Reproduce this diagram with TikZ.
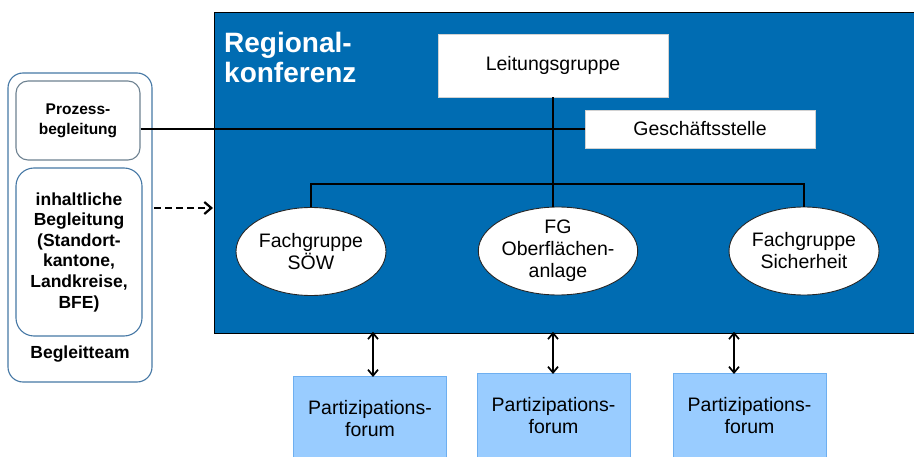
\documentclass[tikz,border=0pt]{standalone}
\usepackage{fontspec}
\setmainfont{Liberation Sans}
\usetikzlibrary{arrows.meta,shapes.geometric}
\definecolor{rkblue}{RGB}{0,108,178}
\definecolor{forumfill}{RGB}{153,204,255}
\definecolor{forumdraw}{RGB}{110,175,240}
\definecolor{teamdraw}{RGB}{70,120,165}
\definecolor{prozdraw}{RGB}{110,130,145}
\begin{document}
\begin{tikzpicture}[x=1pt,y=-1pt,
  wbox/.style={draw=gray!35, fill=white, inner sep=0pt, font=\fontsize{19.5}{23}\selectfont},
  fg/.style={ellipse, draw=black!85, line width=0.9pt, fill=white, minimum width=150pt, minimum height=88pt, inner sep=0pt, align=center, font=\fontsize{19.5}{22}\selectfont},
  forum/.style={draw=forumdraw, line width=0.8pt, fill=forumfill, minimum width=153pt, minimum height=84pt, anchor=north, inner sep=0pt, align=center, font=\fontsize{19.5}{22}\selectfont},
  conn/.style={line width=1.9pt, black},
  tip/.style={-{Straight Barb[length=7pt,width=12pt,line width=2.2pt]}},
  bitip/.style={{Straight Barb[length=6pt,width=10pt,line width=1.7pt]}-{Straight Barb[length=6pt,width=10pt,line width=1.7pt]}}
]
\useasboundingbox (0,0) rectangle (914,457);
\clip (0,0) rectangle (914,457);
\fill[white] (0,0) rectangle (914,457);

% Regionalkonferenz
\node[draw=black, line width=0.8pt, fill=rkblue, minimum width=712pt, minimum height=321pt, anchor=north west, inner sep=0pt] (rk) at (214,12) {};
\node[anchor=north west, text=white, font=\bfseries\fontsize{28}{30}\selectfont, align=left, inner sep=0pt] (title) at (224,32) {Regional-\\konferenz};

\node[wbox, minimum width=230pt, minimum height=63pt] (lg) at (553,65.5) {Leitungsgruppe};
\node[wbox, minimum width=230pt, minimum height=38pt] (gs) at (700,129) {Geschäftsstelle};

\node[fg] (e1) at (311,251.5) {Fachgruppe\\SÖW};
\node[fg] (e2) at (558,251) {FG\\Oberflächen-\\anlage};
\node[fg] (e3) at (804,251) {Fachgruppe\\Sicherheit};

% Begleitteam
\node[draw=teamdraw, line width=1.1pt, rounded corners=15pt, minimum width=144pt, minimum height=309pt, inner sep=0pt] (team) at (80,227.5) {};
\node[draw=prozdraw, line width=1.1pt, rounded corners=12pt, fill=white, minimum width=124pt, minimum height=79pt, inner sep=0pt, align=center, font=\bfseries\fontsize{15.5}{20}\selectfont] (proz) at (78,120.5) {Prozess-\\begleitung};
\node[draw=teamdraw, line width=1.1pt, rounded corners=18pt, fill=white, minimum width=126pt, minimum height=168pt, inner sep=0pt, align=center, font=\bfseries\fontsize{17.5}{20.6}\selectfont] (inh) at (79,252) {inhaltliche\\Begleitung\\(Standort-\\kantone,\\Landkreise,\\BFE)};
\node[font=\bfseries\fontsize{17.5}{20}\selectfont, inner sep=0pt] (bt) at (80,354) {Begleitteam};

% Partizipationsforen
\node[forum] (f1) at (370,376) {Partizipations-\\forum};
\node[forum] (f2) at (553.5,373) {Partizipations-\\forum};
\node[forum] (f3) at (749.5,373) {Partizipations-\\forum};

% connectors
\coordinate (bus) at (553,184);
\coordinate (da) at (154,208);
\coordinate (a1) at (373,0);
\coordinate (a2) at (553,0);
\coordinate (a3) at (734,0);

\draw[conn] (proz.east |- gs.west) -- (gs.west);
\draw[conn] (lg.south) -- (lg.south |- e2.north);
\draw[conn] (e1.north) -- (e1.north |- bus) -- (e3.north |- bus) -- (e3.north);
\draw[conn, line width=2.6pt, dash pattern=on 7pt off 4pt, tip] (da) -- ([xshift=-1pt]da -| rk.west);
\draw[conn, bitip] ([yshift=2pt]rk.south -| a1) -- ([yshift=-1pt]f1.north -| a1);
\draw[conn, bitip] ([yshift=2pt]rk.south -| a2) -- ([yshift=-1pt]f2.north -| a2);
\draw[conn, bitip] ([yshift=2pt]rk.south -| a3) -- ([yshift=-1pt]f3.north -| a3);
\end{tikzpicture}
\end{document}
